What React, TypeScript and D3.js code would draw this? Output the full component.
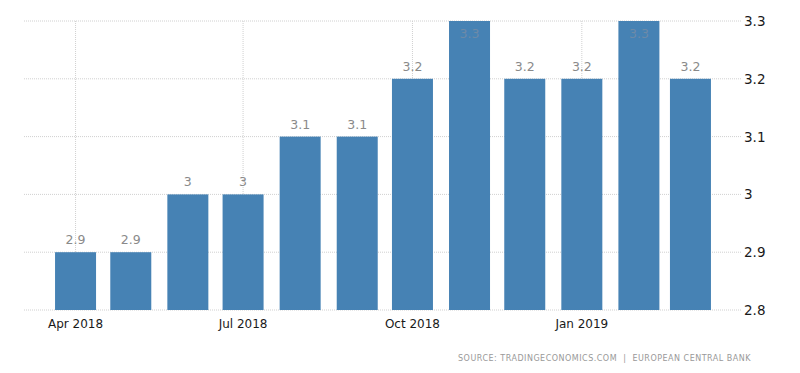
import React from 'react';
import * as d3 from 'd3';

// monthly values, Apr 2018 .. Mar 2019
const months = [
  '2018-04-01', '2018-05-01', '2018-06-01', '2018-07-01', '2018-08-01', '2018-09-01',
  '2018-10-01', '2018-11-01', '2018-12-01', '2019-01-01', '2019-02-01', '2019-03-01',
];
const values = [2.9, 2.9, 3.0, 3.0, 3.1, 3.1, 3.2, 3.3, 3.2, 3.2, 3.3, 3.2];
const yTicks = [2.8, 2.9, 3.0, 3.1, 3.2, 3.3];
const xTicks = ['2018-04-01', '2018-07-01', '2018-10-01', '2019-01-01'];
const sourceText = 'SOURCE: TRADINGECONOMICS.COM  |  EUROPEAN CENTRAL BANK';

const parse = (s: string) => {
  const [y, m, d] = s.split('-').map(Number);
  return new Date(y, m - 1, d);
};

const W = 800;
const H = 373;
const left = 24;
const right = 742;
const top = 21;
const bottom = 310;
const barW = 41;
const blue = '#4682b4';

export default function App() {
  const x = d3.scaleTime()
    .domain([new Date(2018, 2, 4), new Date(2019, 2, 29)])
    .range([left, right]);
  const y = d3.scaleLinear().domain([2.8, 3.3]).range([bottom, top]);
  const fmtTick = d3.timeFormat('%b %Y');
  const fmtY = (v: number) => d3.format('.1~f')(v);

  return (
    <svg width={W} height={H} style={{ position: 'absolute', left: 0, top: 0, background: '#fff' }}
      fontFamily="'DejaVu Sans', sans-serif">
      {/* grid */}
      {yTicks.map(t => (
        <line key={'h' + t} x1={left} x2={right} y1={y(t)} y2={y(t)}
          stroke="#d0d0d0" strokeWidth={1} strokeDasharray="1,1" />
      ))}
      {xTicks.map(t => (
        <line key={'v' + t} x1={x(parse(t))} x2={x(parse(t))} y1={top} y2={bottom}
          stroke="#d0d0d0" strokeWidth={1} strokeDasharray="1,1" />
      ))}

      {/* bars */}
      {months.map((m, i) => {
        const cx = x(parse(m));
        const yy = y(values[i]);
        const inside = yy <= top + 1;
        return (
          <g key={m}>
            <rect x={cx - barW / 2} y={yy} width={barW} height={bottom - yy} fill={blue} />
            <text x={cx} y={inside ? yy + 17 : yy - 8} textAnchor="middle" fontSize={12.5}
              fill={inside ? '#6d8aa8' : '#8a8a8a'}>
              {fmtY(values[i])}
            </text>
          </g>
        );
      })}

      {/* right axis */}
      {yTicks.map(t => (
        <text key={'yl' + t} x={744} y={y(t) + 5} fontSize={13.5} fill="#1a1a1a">
          {fmtY(t)}
        </text>
      ))}

      {/* bottom axis */}
      {xTicks.map(t => (
        <text key={'xl' + t} x={x(parse(t))} y={328} textAnchor="middle" fontSize={12} fill="#1a1a1a">
          {fmtTick(parse(t))}
        </text>
      ))}

      <text x={751} y={361} textAnchor="end" fontSize={8} letterSpacing={0.5} fill="#999"
        style={{ whiteSpace: 'pre' }}>
        {sourceText}
      </text>
    </svg>
  );
}
